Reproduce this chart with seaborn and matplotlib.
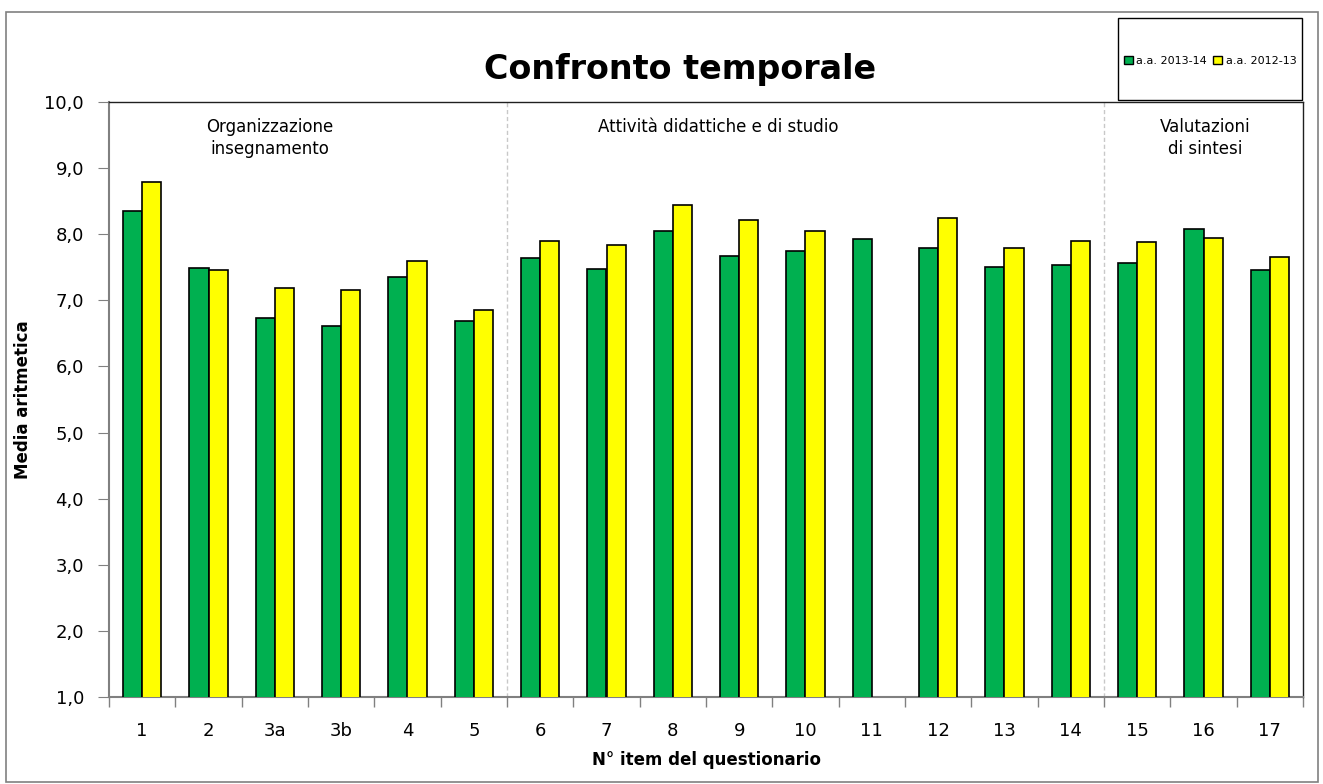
import numpy as np
import pandas as pd
import matplotlib
matplotlib.use("Agg")
import matplotlib.pyplot as plt
import seaborn as sns
from matplotlib.patches import Rectangle, Patch
from matplotlib.ticker import FuncFormatter, FixedLocator

items = ["1", "2", "3a", "3b", "4", "5", "6", "7", "8", "9", "10", "11", "12", "13", "14", "15", "16", "17"]
val_2013_14 = [8.35, 7.49, 6.73, 6.61, 7.35, 6.69, 7.64, 7.48, 8.05, 7.67, 7.75, 7.93, 7.79, 7.51, 7.53, 7.56, 8.08, 7.46]
val_2012_13 = [8.79, 7.46, 7.19, 7.15, 7.59, 6.85, 7.90, 7.84, 8.44, 8.21, 8.05, np.nan, 8.25, 7.79, 7.89, 7.88, 7.94, 7.66]
series_names = ["a.a. 2013-14", "a.a. 2012-13"]
section_labels = ["Organizzazione\ninsegnamento", "Attività didattiche e di studio", "Valutazioni\ndi sintesi"]

df = pd.DataFrame({
    "item": items * 2,
    "media": val_2013_14 + val_2012_13,
    "anno": [series_names[0]] * len(items) + [series_names[1]] * len(items),
})

sns.set_style("white")
plt.rcParams["font.family"] = ["DejaVu Sans"]
plt.rcParams["text.color"] = "black"
plt.rcParams["axes.labelcolor"] = "black"
plt.rcParams["xtick.color"] = "black"
plt.rcParams["ytick.color"] = "black"

fig = plt.figure(figsize=(13.23, 7.84), dpi=100)
ax = fig.add_axes([109/1323, 1 - 697/784, (1303-109)/1323, (697-102)/784])

sns.barplot(data=df, x="item", y="media", hue="anno", order=items, hue_order=series_names,
            palette=["#00B050", "#FFFF00"], saturation=1, edgecolor="black", linewidth=1.2,
            width=0.58, gap=0, ax=ax, legend=False, errorbar=None, zorder=3)

ax.set_xlim(-0.5, len(items) - 0.5)
ax.set_ylim(1.0, 10.0)
ax.yaxis.set_major_locator(FixedLocator(np.arange(1, 10.01, 1.0)))
ax.yaxis.set_major_formatter(FuncFormatter(lambda v, p: f"{v:.1f}".replace(".", ",")))
ax.tick_params(axis="y", left=True, labelsize=13, length=8, color="#808080", direction="out", pad=10,
               labelcolor="black")
ax.tick_params(axis="x", which="major", bottom=True, labelsize=13, length=0, pad=18, labelcolor="black")
ax.set_xticks(np.arange(-0.5, len(items), 1.0), minor=True)
ax.tick_params(axis="x", which="minor", bottom=True, length=7, width=1, color="#808080", direction="out")

for s in ["left", "bottom"]:
    ax.spines[s].set_color("#808080")
    ax.spines[s].set_linewidth(1.5)
for s in ["top", "right"]:
    ax.spines[s].set_color("#202020")
    ax.spines[s].set_linewidth(1.0)

ax.set_xlabel("N° item del questionario", fontsize=12, fontweight="bold", labelpad=8)
ax.set_ylabel("Media aritmetica", fontsize=12, fontweight="bold")
ax.yaxis.set_label_coords(-0.0645, 0.5)

# section separators
for xb in [5.5, 14.5]:
    ax.axvline(xb, color="#c8c8c8", linestyle=(0, (3, 2)), linewidth=1.0, zorder=1)

ax.text(1.93, 9.76, section_labels[0], ha="center", va="top", fontsize=12, linespacing=1.3)
ax.text(8.69, 9.76, section_labels[1], ha="center", va="top", fontsize=12)
ax.text(16.03, 9.76, section_labels[2], ha="center", va="top", fontsize=12, linespacing=1.3)

fig.text(680/1323, 1 - 70/784, "Confronto temporale", ha="center", va="center",
         fontsize=24, fontweight="bold")

# legend box
fig.patches.append(Rectangle((1118/1323, 1 - 100/784), (1302-1118)/1323, (100-18)/784,
                             transform=fig.transFigure, fill=False, edgecolor="black", linewidth=1.0))
handles = [Patch(facecolor="#00B050", edgecolor="black"), Patch(facecolor="#FFFF00", edgecolor="black")]
fig.legend(handles, series_names, loc="center", bbox_to_anchor=(1210/1323, 1 - 61/784), ncol=2,
           frameon=False, fontsize=8, handlelength=0.8, handleheight=0.8, handletextpad=0.3,
           columnspacing=0.6)

# outer border
fig.patches.append(Rectangle((6/1323, 2/784), (1318-6)/1323, (770/784), transform=fig.transFigure,
                             fill=False, edgecolor="#808080", linewidth=1.2))

fig.savefig("out.png", dpi=100)
